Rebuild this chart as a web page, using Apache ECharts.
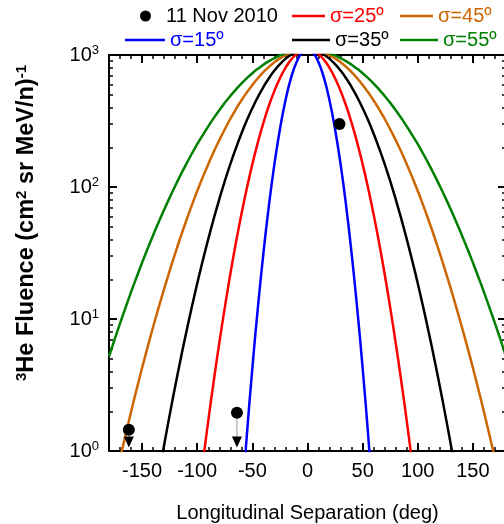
<!DOCTYPE html>
<html><head><meta charset="utf-8">
<script src="https://cdn.jsdelivr.net/npm/echarts@6/dist/echarts.min.js"></script>
<style>html,body{margin:0;padding:0;background:#fff}#c{width:504px;height:524px}</style>
</head><body><div id="c"></div>
<script>
const N = null;
const FONT = '"Liberation Sans", Arial, sans-serif';

// longitudinal separation (deg), sampled every 5 deg
const lon = [-180,-175,-170,-165,-160,-155,-150,-145,-140,-135,-130,-125,-120,-115,-110,-105,-100,-95,-90,-85,-80,-75,-70,-65,-60,-55,-50,-45,-40,-35,-30,-25,-20,-15,-10,-5,0,5,10,15,20,25,30,35,40,45,50,55,60,65,70,75,80,85,90,95,100,105,110,115,120,125,130,135,140,145,150,155,160,165,170,175,180];

const sig15 = [N,N,N,N,N,N,N,N,N,N,N,N,N,N,N,N,N,N,N,N,N,N,N,N,
  0.37,1.32,4.25,12.2,31.4,72.3,149,274,452,667,881,1040,1100,1040,881,667,452,274,149,72.3,31.4,12.2,4.25,1.32,0.37,
  N,N,N,N,N,N,N,N,N,N,N,N,N,N,N,N,N,N,N,N,N,N,N,N];
const sig25 = [N,N,N,N,N,N,N,N,N,N,N,N,N,N,N,N,
  0.37,0.80,1.69,3.40,6.57,12.2,21.8,37.5,61.7,97.8,149,218,306,413,535,667,799,919,1015,1078,
  1100,
  1078,1015,919,799,667,535,413,306,218,149,97.8,61.7,37.5,21.8,12.2,6.57,3.40,1.69,0.80,0.37,
  N,N,N,N,N,N,N,N,N,N,N,N,N,N,N,N];
const sig35 = [N,N,N,N,N,N,N,N,
  0.37,0.65,1.11,1.87,3.08,4.98,7.88,12.2,18.6,27.6,40.3,57.6,80.7,110.8,149,196,253,320,396,481,572,667,762,852,934,1004,1056,1089,
  1100,
  1089,1056,1004,934,852,762,667,572,481,396,320,253,196,149,110.8,80.7,57.6,40.3,27.6,18.6,12.2,7.88,4.98,3.08,1.87,1.11,0.65,0.37,
  N,N,N,N,N,N,N,N];
const sig45 = [0.369,0.572,0.875,1.32,1.98,2.92,4.25,6.12,8.70,12.2,16.9,23.2,31.4,42.0,55.4,72.3,93.1,118.5,149,184.8,226,274,328,388,452,521,593,667,741,813,881,943,997,1041,1073,1093,
  1100,
  1093,1073,1041,997,943,881,813,741,667,593,521,452,388,328,274,226,184.8,149,118.5,93.1,72.3,55.4,42.0,31.4,23.2,16.9,12.2,8.70,6.12,4.25,2.92,1.98,1.32,0.875,0.572,0.369];
const sig55 = [5.20,6.97,9.26,12.2,16.0,20.7,26.7,34.1,43.1,54.1,67.3,83.1,101.8,123.6,149,178,211,247,288,333,382,434,489,547,607,667,728,787,844,898,948,992,1030,1060,1082,1095,
  1100,
  1095,1082,1060,1030,992,948,898,844,787,728,667,607,547,489,434,382,333,288,247,211,178,149,123.6,101.8,83.1,67.3,54.1,43.1,34.1,26.7,20.7,16.0,12.2,9.26,6.97,5.20];

// 11 Nov 2010 observations
const obsLon = [29, -64, -162];
const obsVal = [300, 1.95, 1.45];
// upper limits (arrows)
const limLon = [-64, -162];
const limVal = [1.95, 1.45];
const arrowVal = [1.17, 1.17];

// ticks
const xMajor = [-150,-100,-50,0,50,100,150];
const yMajor = [1,10,100,1000];
const yExp = ['0','1','2','3'];
const yMinor = [2,3,4,5,6,7,8,9,20,30,40,50,60,70,80,90,200,300,400,500,600,700,800,900];

const curves = [
  {name:'σ=15º', vals:sig15, color:'#0000ff'},
  {name:'σ=25º', vals:sig25, color:'#ff0000'},
  {name:'σ=35º', vals:sig35, color:'#000000'},
  {name:'σ=45º', vals:sig45, color:'#cc6600'},
  {name:'σ=55º', vals:sig55, color:'#008000'}
];

const chart = echarts.init(document.getElementById('c'), null, {renderer:'canvas'});

const axLine = {show:true, onZero:false, lineStyle:{color:'#000', width:2}};
const noLine = {show:false, onZero:false};
const majTick = (vals) => ({show:true, inside:true, length:8, customValues:vals, lineStyle:{color:'#000', width:2}});
const minTick = {show:true, inside:true, length:4, lineStyle:{color:'#000', width:1.5}};

function xAx(pos, major, extra) {
  return Object.assign({
    type:'value', min:-180, max:180, position:pos, gridIndex:0,
    splitLine:{show:false}, axisLine: major ? axLine : noLine,
    axisTick: major ? majTick(xMajor) : Object.assign({}, minTick),
    axisLabel:{show:false}
  }, major ? {} : {interval:10}, extra || {});
}
function yAx(pos, major, extra) {
  return Object.assign({
    type:'log', logBase:10, min:1, max:1000, position:pos, gridIndex:0,
    splitLine:{show:false}, axisLine: major ? axLine : noLine,
    axisTick: major ? majTick(yMajor) : Object.assign({customValues:yMinor}, minTick),
    axisLabel:{show:false}
  }, extra || {});
}

const series = curves.map(c => ({
  type:'line', name:c.name, smooth:true, symbol:'none', showSymbol:false, clip:true, z:2,
  xAxisIndex:0, yAxisIndex:0,
  data: lon.map((x,i)=>[x, c.vals[i]]).filter(p => p[1] !== null),
  lineStyle:{color:c.color, width:2.5}, itemStyle:{color:c.color}
}));
limLon.forEach((x,i) => series.push({
  type:'line', symbol:'none', z:3, silent:true, xAxisIndex:0, yAxisIndex:0,
  data:[[x, limVal[i]], [x, arrowVal[i]]],
  lineStyle:{color:'#999', width:1}
}));
series.push({
  type:'scatter', z:4, xAxisIndex:0, yAxisIndex:0, symbol:'triangle', symbolRotate:180, symbolSize:[10,11],
  data: limLon.map((x,i)=>[x, arrowVal[i]]), itemStyle:{color:'#000', opacity:1}, silent:true
});
series.push({
  type:'scatter', name:'11 Nov 2010', z:5, xAxisIndex:0, yAxisIndex:0, symbol:'circle', symbolSize:12,
  data: obsLon.map((x,i)=>[x, obsVal[i]]), itemStyle:{color:'#000', opacity:1}
});

function leg(name, color, left, top, w, isDot) {
  return {
    data:[{name:name, textStyle:{color:color}}], left:left, top:top, padding:0, itemGap:0,
    itemWidth:w, itemHeight: isDot ? 11 : 2.5, selectedMode:false,
    icon: isDot ? 'circle' : 'rect',
    itemStyle:{color:color, opacity:1, borderWidth:0},
    lineStyle:{width:0},
    textStyle:{fontSize:20, fontFamily:FONT, color:color}
  };
}

chart.setOption({
  animation:false,
  backgroundColor:'#fff',
  textStyle:{fontFamily:FONT},
  grid:{left:109, top:55, width:397, height:396, outerBoundsMode:'none', containLabel:false},
  legend:[
    leg('11 Nov 2010', '#000000', 140, 6, 31, true),
    leg('σ=25º', '#ff0000', 292, 6, 33),
    leg('σ=45º', '#cc6600', 400, 6, 33),
    leg('σ=15º', '#0000ff', 125, 30, 40),
    leg('σ=35º', '#000000', 292, 30, 38),
    leg('σ=55º', '#008000', 400, 30, 38)
  ],
  xAxis:[
    xAx('bottom', true, {
      axisLabel:{show:true, customValues:xMajor, fontSize:20, color:'#000', margin:10, fontFamily:FONT},
      name:'Longitudinal Separation (deg)', nameLocation:'middle', nameGap:52,
      nameTextStyle:{fontSize:20, color:'#000', fontFamily:FONT}
    }),
    xAx('bottom', false),
    xAx('top', true),
    xAx('top', false)
  ],
  yAxis:[
    yAx('left', true, {
      axisLabel:{show:true, customValues:yMajor, margin:10,
        formatter: v => '{b|10}{s|' + yExp[yMajor.indexOf(Math.round(v))] + '}',
        rich:{
          b:{fontSize:20, color:'#000', fontFamily:FONT, lineHeight:22},
          s:{fontSize:13, color:'#000', fontFamily:FONT, verticalAlign:'top', lineHeight:13}
        }
      }
    }),
    yAx('left', false),
    yAx('right', true),
    yAx('right', false)
  ],
  graphic:[{
    type:'text', x:27, y:223, rotation:Math.PI/2, silent:true,
    style:{
      text:'{s|3}{b|He Fluence (cm}{s|2}{b| sr MeV/n)}{s|-1}',
      align:'center', verticalAlign:'middle', fill:'#000',
      rich:{
        b:{fontSize:23.5, fontWeight:'bold', fontFamily:FONT, fill:'#000', lineHeight:26},
        s:{fontSize:15, fontWeight:'bold', fontFamily:FONT, fill:'#000', verticalAlign:'top', lineHeight:15}
      }
    }
  }],
  series: series
});
</script>
</body></html>
